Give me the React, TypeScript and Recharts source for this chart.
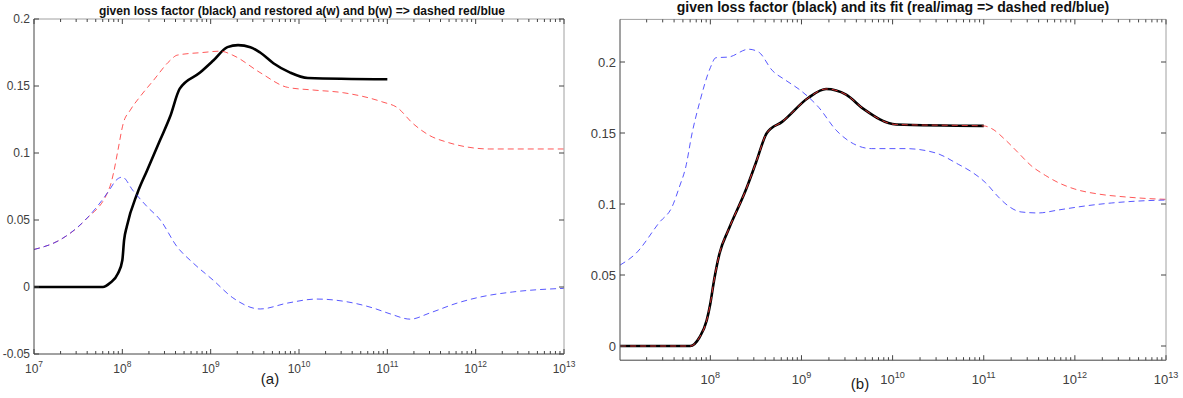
import React from 'react';
import { LineChart, Line, XAxis, YAxis } from 'recharts';

// ---------- Panel (a) data (x as log10 of frequency) ----------
const aBlackExp = [7.0, 7.78, 7.86, 7.95, 8.0, 8.02, 8.05, 8.17, 8.28, 8.43, 8.54, 8.65, 8.88, 9.03, 9.19, 9.31, 9.45, 9.56, 9.71, 9.9, 10.1, 11.0];
const aBlackVal = [0, 0, 0.003, 0.01, 0.02, 0.035, 0.045, 0.07, 0.087, 0.11, 0.127, 0.148, 0.16, 0.169, 0.179, 0.1805, 0.179, 0.175, 0.167, 0.16, 0.156, 0.155];

const aRedExp = [7.0, 7.29, 7.58, 7.86, 7.9, 7.95, 8.01, 8.09, 8.2, 8.35, 8.54, 8.62, 8.91, 9.11, 9.25, 9.56, 9.87, 10.16, 10.5, 10.95, 11.11, 11.29, 11.48, 11.68, 11.9, 12.16, 13.0];
const aRedVal = [0.028, 0.035, 0.05, 0.075, 0.085, 0.102, 0.122, 0.132, 0.142, 0.154, 0.169, 0.173, 0.175, 0.176, 0.173, 0.16, 0.149, 0.147, 0.145, 0.138, 0.134, 0.122, 0.113, 0.108, 0.1045, 0.103, 0.103];

const aBlueExp = [7.0, 7.29, 7.58, 7.86, 7.92, 8.0, 8.12, 8.28, 8.43, 8.62, 8.8, 9.03, 9.25, 9.56, 9.87, 10.2, 10.54, 10.84, 11.03, 11.26, 11.48, 11.79, 12.05, 12.42, 13.0];
const aBlueVal = [0.028, 0.035, 0.05, 0.073, 0.079, 0.082, 0.072, 0.06, 0.05, 0.03, 0.018, 0.005, -0.008, -0.0164, -0.012, -0.009, -0.011, -0.0157, -0.02, -0.024, -0.0194, -0.012, -0.0075, -0.0037, -0.001];

// ---------- Panel (b) data ----------
const bBlackExp = [7.01, 7.78, 7.88, 7.96, 8.0, 8.04, 8.1, 8.2, 8.39, 8.5, 8.62, 8.79, 9.08, 9.27, 9.49, 9.68, 10.04, 11.0];
const bBlackVal = [0, 0, 0.006, 0.018, 0.03, 0.046, 0.065, 0.082, 0.11, 0.129, 0.15, 0.158, 0.175, 0.181, 0.177, 0.167, 0.156, 0.155];

const bRedExp = [7.01, 7.78, 7.88, 7.96, 8.0, 8.04, 8.1, 8.2, 8.39, 8.5, 8.62, 8.79, 9.08, 9.27, 9.49, 9.68, 10.04, 11.0, 11.09, 11.24, 11.38, 11.52, 11.68, 11.82, 12.0, 12.26, 12.55, 12.91, 13.0];
const bRedVal = [0, 0, 0.006, 0.018, 0.03, 0.046, 0.065, 0.082, 0.11, 0.129, 0.15, 0.158, 0.175, 0.181, 0.177, 0.167, 0.156, 0.155, 0.153, 0.145, 0.136, 0.127, 0.12, 0.115, 0.1105, 0.107, 0.105, 0.1035, 0.1033];

const bBlueExp = [7.01, 7.18, 7.44, 7.58, 7.66, 7.73, 7.8, 7.88, 8.0, 8.06, 8.2, 8.42, 8.53, 8.68, 8.83, 8.99, 9.19, 9.38, 9.6, 9.77, 10.14, 10.47, 10.72, 10.87, 11.02, 11.16, 11.27, 11.41, 11.6, 11.82, 12.11, 12.4, 12.7, 13.0];
const bBlueVal = [0.057, 0.065, 0.087, 0.098, 0.112, 0.126, 0.15, 0.171, 0.196, 0.203, 0.2035, 0.209, 0.207, 0.194, 0.187, 0.18, 0.168, 0.152, 0.1415, 0.139, 0.139, 0.136, 0.128, 0.1225, 0.115, 0.105, 0.0986, 0.0944, 0.0937, 0.0958, 0.0986, 0.1007, 0.1021, 0.1028];

// ---------- ticks ----------
const xMajorA = [1e7, 1e8, 1e9, 1e10, 1e11, 1e12, 1e13];
const xMajorB = [1e8, 1e9, 1e10, 1e11, 1e12, 1e13];
const minorDecades = [7, 8, 9, 10, 11, 12];
const minorMult = [2, 3, 4, 5, 6, 7, 8, 9];
const xMinor = minorDecades.flatMap((d) => minorMult.map((m) => m * Math.pow(10, d)));
const yTicksA = [-0.05, 0, 0.05, 0.1, 0.15, 0.2];
const yTicksB = [0, 0.05, 0.1, 0.15, 0.2];

const titleA = 'given loss factor (black) and restored a(w) and b(w) => dashed red/blue';
const titleB = 'given loss factor (black) and its fit (real/imag => dashed red/blue)';

const toData = (ex: number[], vals: number[]) => ex.map((e, i) => ({ f: Math.pow(10, e), v: vals[i] }));

const FONT = '"Liberation Sans", Arial, Helvetica, sans-serif';
const TICK_COLOR = '#404040';
const TICK_LINE = '#444';

const isMajor = (v: number) => Math.abs(Math.log10(v) - Math.round(Math.log10(v))) < 1e-6;

// bottom axis: draws tick mark (inward) and label
const makeXTickBottom = (fs: number, off: number, labels: boolean) => (props: any) => {
  const { x, y, payload } = props;
  const major = isMajor(payload.value);
  const e = Math.round(Math.log10(payload.value));
  return (
    <g>
      <line x1={x} x2={x} y1={y} y2={y - (major ? 5 : 3)} stroke={TICK_LINE} strokeWidth={1} />
      {labels && major ? (
        <text x={x} y={y + off} textAnchor="middle" fontFamily={FONT} fontSize={fs} fill={TICK_COLOR}>
          10
          <tspan dy={-fs * 0.5} fontSize={fs * 0.7}>{e}</tspan>
        </text>
      ) : null}
    </g>
  );
};

const makeXTickTop = () => (props: any) => {
  const { x, y, payload } = props;
  const major = isMajor(payload.value);
  return <line x1={x} x2={x} y1={y} y2={y + (major ? 5 : 3)} stroke={TICK_LINE} strokeWidth={1} />;
};

const makeYTickLeft = (fs: number) => (props: any) => {
  const { x, y, payload } = props;
  return (
    <g>
      <line x1={x} x2={x + 5} y1={y} y2={y} stroke={TICK_LINE} strokeWidth={1} />
      <text x={x - 4} y={y} dy="0.35em" textAnchor="end" fontFamily={FONT} fontSize={fs} fill={TICK_COLOR}>
        {String(payload.value)}
      </text>
    </g>
  );
};

const makeYTickRight = () => (props: any) => {
  const { x, y } = props;
  return <line x1={x} x2={x - 5} y1={y} y2={y} stroke={TICK_LINE} strokeWidth={1} />;
};

type PanelProps = {
  width: number;
  margin: { top: number; right: number; bottom: number; left: number };
  xDomain: [number, number];
  yDomain: [number, number];
  xMajor: number[];
  yTicks: number[];
  black: { f: number; v: number }[];
  red: { f: number; v: number }[];
  blue: { f: number; v: number }[];
  fs: number;
  xOff: number;
};

const axisDark = { stroke: '#444', strokeWidth: 1 };
const axisLight = { stroke: '#a0a0a0', strokeWidth: 1 };

function Panel(p: PanelProps) {
  const xt = [...p.xMajor, ...xMinor.filter((t) => t > p.xDomain[0] && t < p.xDomain[1])].sort((a, b) => a - b);
  return (
    <LineChart width={p.width} height={398} margin={p.margin}>
      <XAxis xAxisId="main" dataKey="f" type="number" scale="log" domain={p.xDomain} allowDataOverflow
        ticks={xt} interval={0} height={1} tickSize={0} tickMargin={0}
        axisLine={axisDark} tickLine={false} tick={makeXTickBottom(p.fs, p.xOff, true)} />
      <XAxis xAxisId="top" orientation="top" dataKey="f" type="number" scale="log" domain={p.xDomain} allowDataOverflow
        ticks={xt} interval={0} height={1} tickSize={0} tickMargin={0}
        axisLine={axisLight} tickLine={false} tick={makeXTickTop()} />
      <YAxis yAxisId="main" type="number" domain={p.yDomain} allowDataOverflow ticks={p.yTicks} interval={0}
        width={1} tickSize={0} tickMargin={0} axisLine={axisDark} tickLine={false} tick={makeYTickLeft(p.fs)} />
      <YAxis yAxisId="right" orientation="right" type="number" domain={p.yDomain} allowDataOverflow ticks={p.yTicks} interval={0}
        width={1} tickSize={0} tickMargin={0} axisLine={axisLight} tickLine={false} tick={makeYTickRight()} />
      <Line xAxisId="main" yAxisId="main" data={p.black} dataKey="v" type="monotone" dot={false}
        stroke="#000" strokeWidth={2.6} isAnimationActive={false} />
      <Line xAxisId="main" yAxisId="main" data={p.red} dataKey="v" type="monotone" dot={false}
        stroke="#ff3b3b" strokeOpacity={0.85} strokeWidth={1} strokeDasharray="6 4" isAnimationActive={false} />
      <Line xAxisId="main" yAxisId="main" data={p.blue} dataKey="v" type="monotone" dot={false}
        stroke="#3b3bff" strokeOpacity={0.85} strokeWidth={1} strokeDasharray="6 4" isAnimationActive={false} />
      <Line xAxisId="top" yAxisId="right" data={p.black} dataKey="v" type="monotone" dot={false}
        stroke="none" strokeWidth={0} isAnimationActive={false} />
    </LineChart>
  );
}

export default function App() {
  return (
    <div style={{ position: 'absolute', left: 0, top: 0, width: 1183, height: 398, background: '#fff', overflow: 'hidden' }}>
      <div style={{ position: 'absolute', left: 0, top: 0 }}>
        <Panel width={590} margin={{ top: 18, right: 25, bottom: 43, left: 33 }}
          xDomain={[1e7, 1e13]} yDomain={[-0.05, 0.2]} xMajor={xMajorA} yTicks={yTicksA}
          black={toData(aBlackExp, aBlackVal)} red={toData(aRedExp, aRedVal)} blue={toData(aBlueExp, aBlueVal)}
          fs={12} xOff={19} />
      </div>
      <div style={{ position: 'absolute', left: 590, top: 0 }}>
        <Panel width={593} margin={{ top: 18.4, right: 16, bottom: 36.8, left: 29 }}
          xDomain={[1.02e7, 1e13]} yDomain={[-0.01, 0.23]} xMajor={xMajorB} yTicks={yTicksB}
          black={toData(bBlackExp, bBlackVal)} red={toData(bRedExp, bRedVal)} blue={toData(bBlueExp, bBlueVal)}
          fs={13} xOff={24} />
      </div>
      <svg width={1183} height={398} style={{ position: 'absolute', left: 0, top: 0, pointerEvents: 'none' }}>
        <text x={302} y={14.5} textAnchor="middle" fontFamily={FONT} fontWeight="bold" fontSize={12} fill="#111">{titleA}</text>
        <text x={893} y={11.5} textAnchor="middle" fontFamily={FONT} fontWeight="bold" fontSize={14} fill="#111">{titleB}</text>
        <text x={270} y={384} textAnchor="middle" fontFamily={FONT} fontSize={15} fill="#1a1a1a">(a)</text>
        <text x={860} y={389} textAnchor="middle" fontFamily={FONT} fontSize={15} fill="#1a1a1a">(b)</text>
      </svg>
    </div>
  );
}
